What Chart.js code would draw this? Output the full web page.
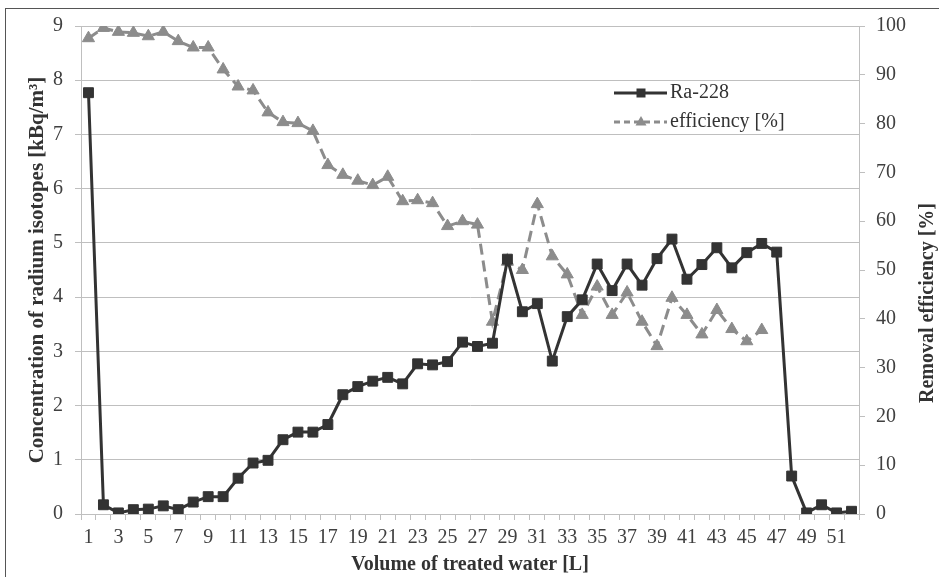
<!DOCTYPE html>
<html><head><meta charset="utf-8">
<script src="https://cdn.jsdelivr.net/npm/chart.js@4/dist/chart.umd.min.js"></script>
<style>html,body{margin:0;padding:0;background:#fff;overflow:hidden}#wrap{width:939px;height:577px}</style>
</head><body><div id="wrap"><canvas id="c" width="939" height="577"></canvas></div>
<script>
const categories = ['1','2','3','4','5','6','7','8','9','10','11','12','13','14','15','16','17','18','19','20','21','22','23','24','25','26','27','28','29','30','31','32','33','34','35','36','37','38','39','40','41','42','43','44','45','46','47','48','49','50','51','52'];
const ra228 = [7.77,0.17,0.02,0.08,0.09,0.15,0.08,0.22,0.32,0.32,0.66,0.94,0.99,1.37,1.51,1.51,1.65,2.20,2.35,2.45,2.52,2.40,2.77,2.75,2.81,3.17,3.09,3.15,4.70,3.73,3.88,2.82,3.64,3.95,4.61,4.12,4.61,4.22,4.71,5.07,4.33,4.60,4.91,4.54,4.82,4.99,4.83,0.70,0.02,0.17,0.02,0.05];
const efficiency = [97.5,99.6,98.8,98.6,97.9,98.8,96.9,95.6,95.6,91.1,87.6,86.8,82.3,80.3,80.1,78.5,71.5,69.5,68.3,67.4,69.1,64.1,64.3,63.7,59.0,60.0,59.3,39.4,51.7,50.0,63.5,52.8,49.1,40.8,46.6,40.8,45.4,39.4,34.4,44.3,40.8,36.8,41.8,37.9,35.4,37.7,null,null,null,null,null,null];
const leftAxisRange = [0, 9, 1];
const rightAxisRange = [0, 100, 10];

const FONT = '"Liberation Serif", "Times New Roman", serif';
const TEXT = '#404040';
const GRID = '#bfbfbf';
const RA_COLOR = '#333333';
const EFF_COLOR = '#8c8c8c';

const decor = {
  id: 'decor',
  beforeDraw(chart) {
    const ctx = chart.ctx;
    ctx.save();
    ctx.fillStyle = '#fff';
    ctx.fillRect(0, 0, chart.width, chart.height);
    ctx.strokeStyle = '#555';
    ctx.lineWidth = 1;
    ctx.strokeRect(5.5, 8.5, 1000, 700);
    ctx.restore();
  },
  afterDraw(chart) {
    const ctx = chart.ctx;
    ctx.save();
    ctx.translate(928, 303);
    ctx.rotate(-Math.PI / 2);
    ctx.font = 'bold 20px ' + FONT;
    ctx.fillStyle = '#333';
    ctx.textAlign = 'center';
    ctx.textBaseline = 'middle';
    ctx.fillText('Removal efficiency [%]', 0, 0);
    ctx.restore();

    ctx.save();
    const items = [
      {label: 'Ra-228', color: RA_COLOR, dash: [], marker: 'rect', y: 93},
      {label: 'efficiency [%]', color: EFF_COLOR, dash: [6, 4], marker: 'triangle', y: 122}
    ];
    items.forEach(it => {
      ctx.strokeStyle = it.color;
      ctx.lineWidth = 3;
      ctx.setLineDash(it.dash);
      ctx.beginPath();
      ctx.moveTo(614, it.y);
      ctx.lineTo(667, it.y);
      ctx.stroke();
      ctx.setLineDash([]);
      ctx.fillStyle = it.color;
      ctx.beginPath();
      if (it.marker === 'rect') {
        ctx.rect(636.5, it.y - 4.5, 9, 9);
      } else {
        ctx.moveTo(641, it.y - 6);
        ctx.lineTo(646.5, it.y + 3.5);
        ctx.lineTo(635.5, it.y + 3.5);
        ctx.closePath();
      }
      ctx.fill();
      ctx.fillStyle = '#333';
      ctx.font = '20px ' + FONT;
      ctx.textAlign = 'left';
      ctx.textBaseline = 'middle';
      ctx.fillText(it.label, 670, it.y);
    });
    ctx.restore();
  }
};

new Chart(document.getElementById('c'), {
  type: 'line',
  data: {
    labels: categories,
    datasets: [
      {
        label: 'Ra-228', data: ra228, yAxisID: 'y',
        borderColor: RA_COLOR, backgroundColor: RA_COLOR, borderWidth: 3,
        pointStyle: 'rect', pointRadius: 7, pointBorderWidth: 1,
        pointBackgroundColor: RA_COLOR, pointBorderColor: RA_COLOR, tension: 0
      },
      {
        label: 'efficiency [%]', data: efficiency, yAxisID: 'y1',
        borderColor: EFF_COLOR, backgroundColor: EFF_COLOR, borderWidth: 3,
        borderDash: [11, 6], pointStyle: 'triangle', pointRadius: 7, pointBorderWidth: 1,
        pointBackgroundColor: EFF_COLOR, pointBorderColor: EFF_COLOR, tension: 0, spanGaps: false
      }
    ]
  },
  options: {
    responsive: false, animation: false, devicePixelRatio: 1,
    layout: {padding: {top: 26, left: 0, right: 0, bottom: 0}},
    plugins: {legend: {display: false}, tooltip: {enabled: false}},
    scales: {
      x: {
        type: 'category', offset: true,
        grid: {display: true, drawOnChartArea: false, drawTicks: true, tickLength: 6, offset: true, color: GRID},
        border: {display: true, color: GRID},
        ticks: {autoSkip: false, maxRotation: 0, minRotation: 0, padding: 6, color: TEXT,
          font: {family: FONT, size: 20},
          callback: (v, i) => (i % 2 === 0 ? categories[i] : '')},
        title: {display: true, text: 'Volume of treated water [L]', color: '#333',
          font: {family: FONT, size: 20, weight: 'bold'}, padding: {top: 0, bottom: 0}},
        afterFit(s) { s.height = 63; }
      },
      y: {
        position: 'left', min: leftAxisRange[0], max: leftAxisRange[1],
        grid: {color: GRID, tickLength: 6, drawTicks: true},
        border: {display: true, color: GRID},
        ticks: {stepSize: leftAxisRange[2], padding: 12, color: TEXT, font: {family: FONT, size: 20}},
        title: {display: true, text: 'Concentration of radium isotopes [kBq/m³]', color: '#333',
          font: {family: FONT, size: 21, weight: 'bold'}, padding: {top: 25, bottom: 0}},
        afterFit(s) { s.width = 81; }
      },
      y1: {
        position: 'right', min: rightAxisRange[0], max: rightAxisRange[1],
        grid: {drawOnChartArea: false, color: GRID, tickLength: 6, drawTicks: true},
        border: {display: true, color: GRID},
        ticks: {stepSize: rightAxisRange[2], padding: 11, color: TEXT, font: {family: FONT, size: 20}},
        afterFit(s) { s.width = 80; }
      }
    }
  },
  plugins: [decor]
});
</script>
</body></html>
